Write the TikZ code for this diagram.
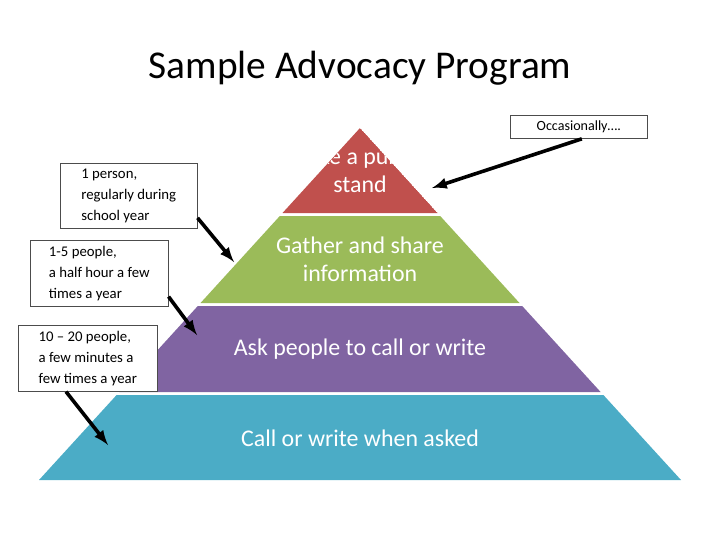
\documentclass[tikz,border=0pt]{standalone}
\usepackage{fontspec}
\setmainfont{Carlito}
\usetikzlibrary{calc}
\definecolor{bandred}{HTML}{C0504D}
\definecolor{bandgreen}{HTML}{9BBB59}
\definecolor{bandpurple}{HTML}{8064A2}
\definecolor{bandblue}{HTML}{4BACC6}
\tikzset{
  lvl/.style={text=white,font=\fontsize{17}{20}\selectfont,align=center},
  callout/.style={draw=black!70,fill=white,align=left,inner sep=4pt,font=\fontsize{10.5}{15}\selectfont,anchor=north west},
  pointer/.style={-latex,line width=0.9mm}
}
\begin{document}
\begin{tikzpicture}[x=0.025cm,y=-0.025cm]
		\useasboundingbox (0,0) rectangle (720,540);
		
		\node (title) at (360,68) {\fontsize{28}{32}\selectfont Sample Advocacy Program};
		
		%%%%% bands %%%%%
		\begin{scope}
			\clip (360,128) -- (282.5,213) -- (437.5,213) -- cycle;
			\fill[bandred] (360,128) -- (282.5,213) -- (437.5,213) -- cycle;
			\node[lvl] (top) at (360,170) {Take a public\\stand};
		\end{scope}
		\fill[bandgreen] (279.8,216) -- (200.5,303) -- (519.5,303) -- (440.2,216) -- cycle;
		\node[lvl] (gather) at (360,259) {Gather and share\\information};
		\fill[bandpurple] (197.8,306) -- (119.4,392) -- (600.6,392) -- (522.2,306) -- cycle;
		\node[lvl] (ask) at (360,349) {Ask people to call or write};
		\fill[bandblue] (116.6,395) -- (39,480) -- (681,480) -- (603.4,395) -- cycle;
		\node[lvl] (call) at (360,438) {Call or write when asked};
		
		%%%%% callouts %%%%%
		\node[callout,minimum width=137*0.025cm] (occ) at (510,115) {\fontsize{10}{12}\selectfont Occasionally\dots.};
		\node[callout,minimum width=137*0.025cm] (one) at (60,163) {1 person,\\regularly during\\school year};
		\node[callout,minimum width=138*0.025cm] (few) at (30,240) {1-5 people,\\a half hour a few\\times a year};
		\node[callout,minimum width=139*0.025cm] (many) at (18,325) {10 – 20 people,\\a few minutes a\\few times a year};
		
		\coordinate (occEnd) at (432,188);
		\coordinate (oneEnd) at (234,262);
		\coordinate (fewEnd) at (197,335);
		\coordinate (manyEnd) at (108,445);
		
		\draw[pointer] ($(occ.south)+(3,0)$) -- (occEnd);
		\draw[pointer] ($(one.south east)+(0,-11)$) -- (oneEnd);
		\draw[pointer] ($(few.south east)+(0,-10)$) -- (fewEnd);
		\draw[pointer] ($(many.south west)+(48,0)$) -- (manyEnd);
\end{tikzpicture}
\end{document}
